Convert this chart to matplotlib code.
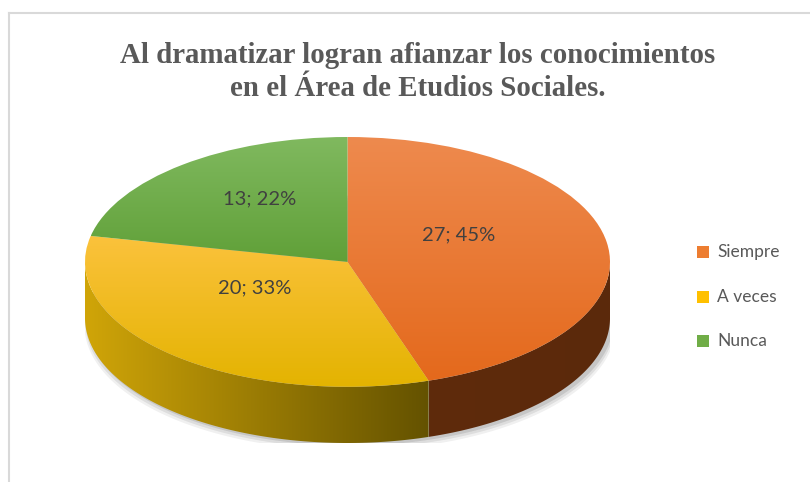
import numpy as np
import matplotlib
matplotlib.use("Agg")
import matplotlib.pyplot as plt
from matplotlib.patches import Polygon
from matplotlib.colors import LinearSegmentedColormap

# datos del gráfico
categorias = ["Siempre", "A veces", "Nunca"]
valores = [27, 20, 13]
porcentajes = [45, 33, 22]

# colores: cara superior (arriba, abajo) y lateral (izquierda, derecha)
col_sup = [("#ee8a4e", "#e4691c"), ("#fbc23c", "#e3b300"), ("#80b95f", "#60a038")]
col_lat = [("#5f2b0c", "#5b290b"), ("#d0a508", "#645200"), ("#4a7a28", "#3c6420")]
col_leyenda = ["#ed7d31", "#ffc000", "#70ad47"]

profundidad = 0.45  # grosor del pastel en unidades del eje vertical

fig = plt.figure(figsize=(8.1, 4.82), dpi=100)
fig.patch.set_facecolor("white")

# marco gris del área del gráfico
fig.add_artist(plt.Line2D([9 / 810, 9 / 810], [0, 1 - 13 / 482], color="#d9d9d9", lw=1.5))
fig.add_artist(plt.Line2D([9 / 810, 1], [1 - 13 / 482, 1 - 13 / 482], color="#d9d9d9", lw=1.5))

ax = fig.add_axes([85 / 810, 39 / 482, 525 / 810, 306 / 482])
wedges, _ = ax.pie(valores, startangle=90, counterclock=False, radius=1,
                   center=(0, 0), wedgeprops=dict(linewidth=0))
ax.set_aspect("auto")
ax.set_xlim(-1, 1)
ax.set_ylim(-1 - profundidad, 1)
ax.axis("off")


def gradiente(c1, c2, vertical, patch, z):
    # degradado de c1 a c2 (arriba→abajo o izquierda→derecha) recortado al parche
    v = patch.get_path().vertices if hasattr(patch, "theta1") else patch.get_xy()
    x0, x1 = v[:, 0].min(), v[:, 0].max()
    y0, y1 = v[:, 1].min(), v[:, 1].max()
    cmap = LinearSegmentedColormap.from_list("g", [c1, c2])
    g = np.linspace(0, 1, 256)
    arr = g[::-1, None] if vertical else g[None, :]
    im = ax.imshow(arr, cmap=cmap, vmin=0, vmax=1, extent=(x0, x1, y0, y1), origin="lower",
                   aspect="auto", zorder=z, interpolation="bilinear")
    im.set_clip_path(patch)


# sombra bajo el pastel
t = np.linspace(0, 2 * np.pi, 300)
for k, a in enumerate([0.10, 0.08, 0.06]):
    d = 0.02 + 0.02 * k
    ax.add_patch(Polygon(np.c_[np.cos(t) * (1 + d * 0.2) + 0.01, np.sin(t) - profundidad - d],
                         closed=True, facecolor="black", alpha=a, lw=0, zorder=0.5))

# caras laterales (solo la parte delantera)
for w, (c1, c2) in zip(wedges, col_lat):
    ang = np.radians(np.linspace(w.theta1, w.theta2, 400))
    vis = np.sin(ang) <= 0
    if vis.sum() < 2:
        continue
    a = ang[vis]
    arriba = np.c_[np.cos(a), np.sin(a)]
    abajo = np.c_[np.cos(a), np.sin(a) - profundidad][::-1]
    poly = Polygon(np.vstack([arriba, abajo]), closed=True, facecolor="none", lw=0)
    ax.add_patch(poly)
    gradiente(c1, c2, False, poly, 1)

# caras superiores con degradado vertical
for w, (c1, c2) in zip(wedges, col_sup):
    w.set_facecolor("none")
    w.set_zorder(2)
    gradiente(c1, c2, True, w, 2)

# etiquetas de datos
for w, v, p in zip(wedges, valores, porcentajes):
    m = np.radians((w.theta1 + w.theta2) / 2)
    ax.text(0.47 * np.cos(m) - 0.04, 0.47 * np.sin(m) + 0.14, f"{v}; {p}%", ha="center", va="center",
            fontsize=14.5, color="#404040", family="Lato", zorder=3)

# título
fig.text(0.5 * (117 + 718) / 810, 1 - 72 / 482,
         "Al dramatizar logran afianzar los conocimientos\nen el Área de Etudios Sociales.",
         ha="center", va="center", fontsize=20.8, fontweight="bold", color="#595959",
         family="Liberation Serif", linespacing=1.33)

# leyenda
for i, (cat, c) in enumerate(zip(categorias, col_leyenda)):
    y = 1 - (252 + 44.5 * i) / 482
    fig.patches.append(plt.Rectangle((697 / 810, y - 6 / 482), 12 / 810, 12 / 482,
                                     transform=fig.transFigure, facecolor=c, lw=0, figure=fig))
    fig.text(717 / 810, y, cat, ha="left", va="center", fontsize=12.5, color="#595959", family="Lato")

fig.savefig("out.png", dpi=100)
